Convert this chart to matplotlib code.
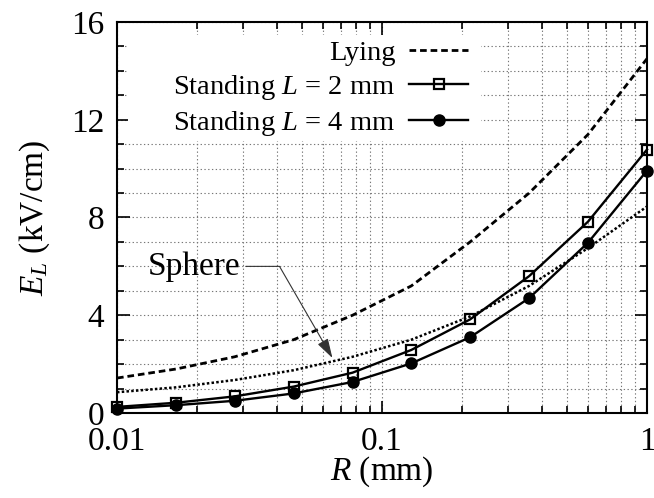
import matplotlib
matplotlib.use("Agg")
import matplotlib.pyplot as plt
from matplotlib.patches import Rectangle
from matplotlib.ticker import FixedLocator, FixedFormatter, NullFormatter, LogLocator

plt.rcParams['font.family'] = ['Liberation Serif', 'DejaVu Serif']
plt.rcParams['mathtext.fontset'] = 'custom'
plt.rcParams['mathtext.rm'] = 'Liberation Serif'
plt.rcParams['mathtext.it'] = 'Liberation Serif:italic'

# Data
R = [0.01, 0.0167, 0.0278, 0.0464, 0.0774, 0.129, 0.215, 0.359, 0.599, 1.0]
lying = [1.43, 1.8, 2.3, 3.0, 4.0, 5.2, 7.0, 9.0, 11.4, 14.5]
sphere = [0.85, 1.05, 1.35, 1.75, 2.3, 3.0, 3.95, 5.2, 6.75, 8.45]
standing_L2 = [0.25, 0.42, 0.68, 1.08, 1.65, 2.58, 3.83, 5.6, 7.83, 10.78]
standing_L4 = [0.18, 0.32, 0.5, 0.8, 1.27, 2.03, 3.1, 4.7, 6.97, 9.92]

x_ticks = [0.01, 0.1, 1]
x_ticklabels = ['0.01', '0.1', '1']
y_ticks = [0, 4, 8, 12, 16]
y_ticklabels = ['0', '4', '8', '12', '16']

fig = plt.figure(figsize=(6.54, 4.98), dpi=100)
ax = fig.add_axes([117/654, 1-413/498, (647-117)/654, (413-22)/498])

ax.set_xscale('log')
ax.set_xlim(0.01, 1)
ax.set_ylim(0, 16)

ax.set_axisbelow(True)
grid_kw = dict(color='#777777', linestyle=(0, (1.2, 2.2)), linewidth=0.8)
ax.grid(True, which='both', **grid_kw)

# legend background box (white, hides grid)
ax.add_patch(Rectangle((0.021, 0.696), 0.666, 0.271, transform=ax.transAxes,
                       facecolor='white', edgecolor='none', zorder=1))

l1, = ax.plot(R, lying, color='black', linewidth=2.0, linestyle=(0, (2.4, 1.4)),
              label='Lying', zorder=3)
ax.plot(R, sphere, color='black', linewidth=1.8, linestyle=(0, (1, 0.9)), zorder=3)
l2, = ax.plot(R, standing_L2, color='black', linewidth=1.7, marker='s', markersize=7,
              markerfacecolor='none', markeredgewidth=1.6, label='Standing $L$ = 2 mm',
              zorder=4, clip_on=False)
l3, = ax.plot(R, standing_L4, color='black', linewidth=1.7, marker='o', markersize=8,
              markerfacecolor='black', label='Standing $L$ = 4 mm', zorder=4,
              clip_on=False)

ax.xaxis.set_major_locator(FixedLocator(x_ticks))
ax.xaxis.set_major_formatter(FixedFormatter(x_ticklabels))
ax.xaxis.set_minor_locator(LogLocator(base=10, subs=range(2, 10)))
ax.xaxis.set_minor_formatter(NullFormatter())
ax.yaxis.set_major_locator(FixedLocator(y_ticks))
ax.yaxis.set_major_formatter(FixedFormatter(y_ticklabels))
ax.yaxis.set_minor_locator(FixedLocator(range(0, 17)))

ax.tick_params(which='both', direction='in', top=True, right=True, width=1.2,
               labelsize=24)
ax.tick_params(which='major', length=9)
ax.tick_params(which='minor', length=5)
ax.tick_params(axis='x', which='major', pad=10)
ax.tick_params(axis='y', which='major', pad=9)

for sp in ax.spines.values():
    sp.set_linewidth(1.5)

ax.set_xlabel('$R$ (mm)', fontsize=24, labelpad=-2)
ax.set_ylabel('$E_L$ (kV/cm)', fontsize=24, labelpad=14)

leg = ax.legend(handles=[l1, l2, l3], loc='upper right',
                bbox_to_anchor=(0.662, 0.955), frameon=False, fontsize=20.5,
                markerfirst=False, handlelength=2.05, handletextpad=0.5,
                labelspacing=0.25, borderpad=0, borderaxespad=0)
leg.set_zorder(5)

ax.annotate('Sphere', xy=(0.065, 2.25), xytext=(0.0195, 6.0),
            fontsize=24, ha='center', va='center',
            arrowprops=dict(arrowstyle='-|>,head_length=0.5,head_width=0.15',
                            color='#333333', linewidth=0.8,
                            connectionstyle='angle,angleA=0,angleB=120,rad=0',
                            shrinkA=2, shrinkB=0))

fig.savefig('out.png', dpi=100)
